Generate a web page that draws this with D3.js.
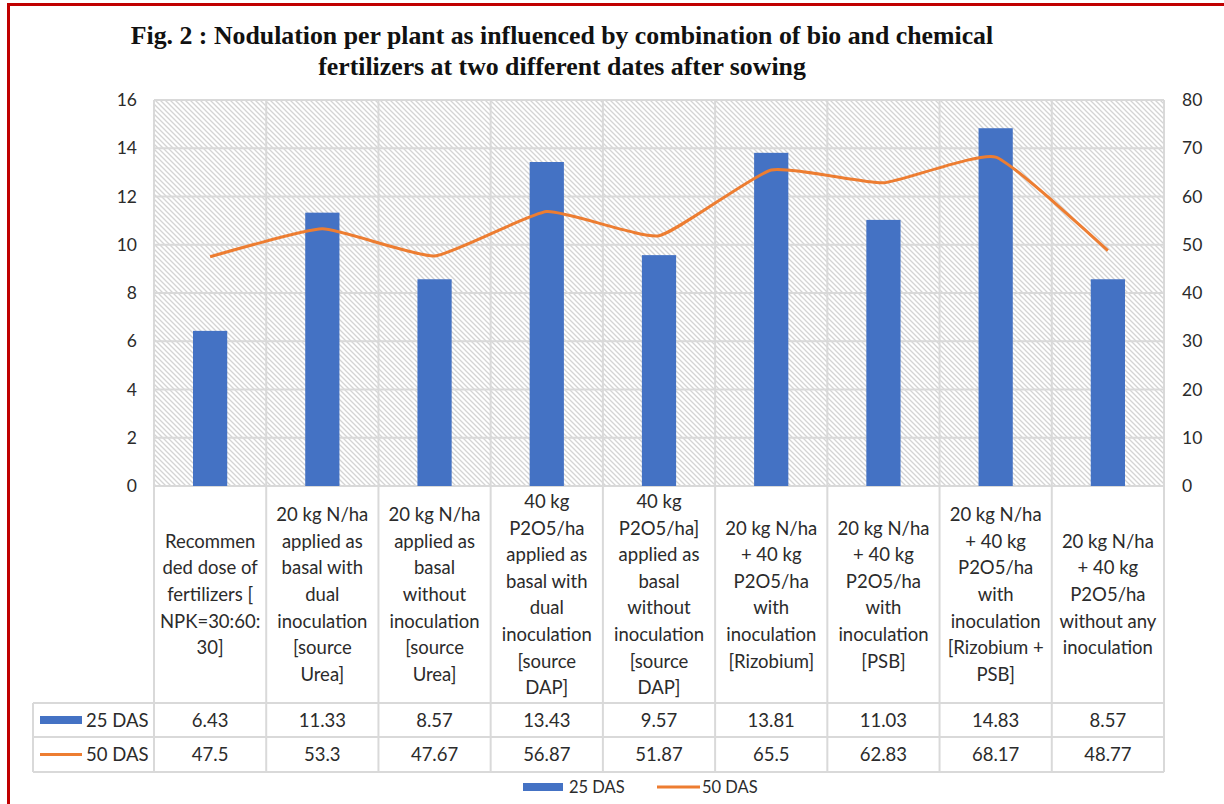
<!DOCTYPE html>
<html>
<head>
<meta charset="utf-8">
<script src="https://cdn.jsdelivr.net/npm/d3@7"></script>
<style>
  body { margin: 0; background: #fff; }
  text { font-family: Lato, "Open Sans", sans-serif; }
</style>
</head>
<body>
<div id="chart"></div>
<script>
// categories, each already broken into the lines used in the table
var categories = [
  ["Recommen", "ded dose of", "fertilizers [", "NPK=30:60:", "30]"],
  ["20 kg N/ha", "applied as", "basal with", "dual", "inoculation", "[source", "Urea]"],
  ["20 kg N/ha", "applied as", "basal", "without", "inoculation", "[source", "Urea]"],
  ["40 kg", "P2O5/ha", "applied as", "basal with", "dual", "inoculation", "[source", "DAP]"],
  ["40 kg", "P2O5/ha]", "applied as", "basal", "without", "inoculation", "[source", "DAP]"],
  ["20 kg N/ha", "+ 40 kg", "P2O5/ha", "with", "inoculation", "[Rizobium]"],
  ["20 kg N/ha", "+ 40 kg", "P2O5/ha", "with", "inoculation", "[PSB]"],
  ["20 kg N/ha", "+ 40 kg", "P2O5/ha", "with", "inoculation", "[Rizobium +", "PSB]"],
  ["20 kg N/ha", "+ 40 kg", "P2O5/ha", "without any", "inoculation"]
];
var das25 = [6.43, 11.33, 8.57, 13.43, 9.57, 13.81, 11.03, 14.83, 8.57];
var das50 = [47.5, 53.3, 47.67, 56.87, 51.87, 65.5, 62.83, 68.17, 48.77];
var das25Labels = ["6.43", "11.33", "8.57", "13.43", "9.57", "13.81", "11.03", "14.83", "8.57"];
var das50Labels = ["47.5", "53.3", "47.67", "56.87", "51.87", "65.5", "62.83", "68.17", "48.77"];
var leftTicks = [0, 2, 4, 6, 8, 10, 12, 14, 16];
var rightTicks = [0, 10, 20, 30, 40, 50, 60, 70, 80];
var titleLines = [
  "Fig. 2 : Nodulation per plant as influenced by combination of bio and chemical",
  "fertilizers at two different dates after sowing"
];

var W = 1224, H = 804;
var plot = {left: 154, right: 1164, top: 100, bottom: 486};
var tbl = {left: 33, labelBottom: 703, row1: 737, row2: 772};
var gridColor = "#d9d9d9", blue = "#4472C4", orange = "#ED7D31", txt = "#2b2b2b";

var svg = d3.select("#chart").append("svg")
  .attr("width", W).attr("height", H);

// hatch fill of the plot area
var pat = svg.append("defs").append("pattern")
  .attr("id", "hatch").attr("patternUnits", "userSpaceOnUse")
  .attr("width", 5).attr("height", 5);
pat.append("rect").attr("width", 5).attr("height", 5).attr("fill", "#fff");
pat.append("path")
  .attr("d", "M-1,-1 L6,6 M-1,4 L1,6 M4,-1 L6,1")
  .attr("stroke", "#d4d4d4").attr("stroke-width", 1.3);

// red frame (top and left only visible)
svg.append("line").attr("x1", 8).attr("x2", W).attr("y1", 4.5).attr("y2", 4.5)
  .attr("stroke", "#c00000").attr("stroke-width", 3);
svg.append("line").attr("x1", 8.5).attr("x2", 8.5).attr("y1", 3).attr("y2", H)
  .attr("stroke", "#c00000").attr("stroke-width", 3);

// title
svg.append("g").selectAll("text").data(titleLines).enter().append("text")
  .attr("x", 562).attr("y", function (d, i) { return 44 + i * 31; })
  .attr("text-anchor", "middle")
  .style("font-family", "'Liberation Serif', 'DejaVu Serif', serif")
  .style("font-weight", "bold").style("font-size", "25.8px").attr("fill", "#111")
  .text(function (d) { return d; });

// scales
var x = d3.scaleBand().domain(d3.range(categories.length))
  .range([plot.left, plot.right]).padding(0);
var yL = d3.scaleLinear().domain([0, 16]).range([plot.bottom, plot.top]);
var yR = d3.scaleLinear().domain([0, 80]).range([plot.bottom, plot.top]);

svg.append("rect")
  .attr("x", plot.left).attr("y", plot.top)
  .attr("width", plot.right - plot.left).attr("height", plot.bottom - plot.top)
  .attr("fill", "url(#hatch)");

// horizontal gridlines
svg.append("g").selectAll("line").data(leftTicks).enter().append("line")
  .attr("x1", plot.left).attr("x2", plot.right)
  .attr("y1", function (d) { return yL(d); }).attr("y2", function (d) { return yL(d); })
  .attr("stroke", gridColor).attr("stroke-width", 2);

// vertical lines through plot and table
var bounds = d3.range(categories.length + 1).map(function (i) {
  return i < categories.length ? x(i) : plot.right;
});
svg.append("g").selectAll("line").data(bounds).enter().append("line")
  .attr("x1", function (d) { return d; }).attr("x2", function (d) { return d; })
  .attr("y1", plot.top).attr("y2", tbl.row2)
  .attr("stroke", gridColor).attr("stroke-width", 2);

// table rows and legend column
[tbl.labelBottom, tbl.row1, tbl.row2].forEach(function (yy) {
  svg.append("line").attr("x1", tbl.left).attr("x2", plot.right)
    .attr("y1", yy).attr("y2", yy)
    .attr("stroke", gridColor).attr("stroke-width", 2);
});
svg.append("line").attr("x1", tbl.left).attr("x2", tbl.left)
  .attr("y1", tbl.labelBottom).attr("y2", tbl.row2)
  .attr("stroke", gridColor).attr("stroke-width", 2);

// axis tick labels
var yAxisL = d3.axisLeft(yL).tickValues(leftTicks).tickSize(0).tickPadding(0);
var gL = svg.append("g").attr("transform", "translate(137,0)").call(yAxisL);
var yAxisR = d3.axisRight(yR).tickValues(rightTicks).tickSize(0).tickPadding(0);
var gR = svg.append("g").attr("transform", "translate(1182,0)").call(yAxisR);
[gL, gR].forEach(function (g) {
  g.select(".domain").remove();
  g.selectAll("text").style("font-family", "Lato, 'Open Sans', sans-serif")
    .style("font-size", "17.5px").attr("fill", txt);
});

// bars
var barW = x.bandwidth() * 0.305;
svg.append("g").selectAll("rect").data(das25).enter().append("rect")
  .attr("x", function (d, i) { return x(i) + x.bandwidth() / 2 - barW / 2; })
  .attr("y", function (d) { return yL(d); })
  .attr("width", barW)
  .attr("height", function (d) { return yL(0) - yL(d); })
  .attr("fill", blue);

// line
var line = d3.line()
  .x(function (d, i) { return x(i) + x.bandwidth() / 2; })
  .y(function (d) { return yR(d); })
  .curve(d3.curveCardinal.tension(0.55));
svg.append("path").datum(das50).attr("d", line)
  .attr("fill", "none").attr("stroke", orange).attr("stroke-width", 3)
  .attr("stroke-linejoin", "round");

// category labels
var lineH = 26.6;
var labelMid = (plot.bottom + tbl.labelBottom) / 2;
categories.forEach(function (lines, i) {
  var cx = x(i) + x.bandwidth() / 2;
  var y0 = labelMid - (lines.length - 1) * lineH / 2 + 6.5;
  svg.append("g").selectAll("text").data(lines).enter().append("text")
    .attr("x", cx).attr("y", function (d, j) { return y0 + j * lineH; })
    .attr("text-anchor", "middle").style("font-size", "18.5px").attr("fill", txt)
    .text(function (d) { return d; });
});

// value rows
function valueRow(labels, ymid) {
  svg.append("g").selectAll("text").data(labels).enter().append("text")
    .attr("x", function (d, i) { return x(i) + x.bandwidth() / 2; })
    .attr("y", ymid + 6.5).attr("text-anchor", "middle")
    .style("font-size", "18.5px").attr("fill", txt)
    .text(function (d) { return d; });
}
var r1 = (tbl.labelBottom + tbl.row1) / 2, r2 = (tbl.row1 + tbl.row2) / 2;
valueRow(das25Labels, r1);
valueRow(das50Labels, r2);

// legend keys inside the table
svg.append("rect").attr("x", 40).attr("y", r1 - 4).attr("width", 42).attr("height", 8).attr("fill", blue);
svg.append("text").attr("x", 86).attr("y", r1 + 6.5).style("font-size", "18.5px").attr("fill", txt).text("25 DAS");
svg.append("line").attr("x1", 40).attr("x2", 82).attr("y1", r2).attr("y2", r2)
  .attr("stroke", orange).attr("stroke-width", 3);
svg.append("text").attr("x", 86).attr("y", r2 + 6.5).style("font-size", "18.5px").attr("fill", txt).text("50 DAS");

// bottom legend
var ly = 787;
svg.append("rect").attr("x", 523).attr("y", ly - 4).attr("width", 40).attr("height", 8).attr("fill", blue);
svg.append("text").attr("x", 569).attr("y", ly + 6).style("font-size", "16.5px").attr("fill", txt).text("25 DAS");
svg.append("line").attr("x1", 657).attr("x2", 700).attr("y1", ly).attr("y2", ly)
  .attr("stroke", orange).attr("stroke-width", 3);
svg.append("text").attr("x", 702).attr("y", ly + 6).style("font-size", "16.5px").attr("fill", txt).text("50 DAS");
</script>
</body>
</html>
